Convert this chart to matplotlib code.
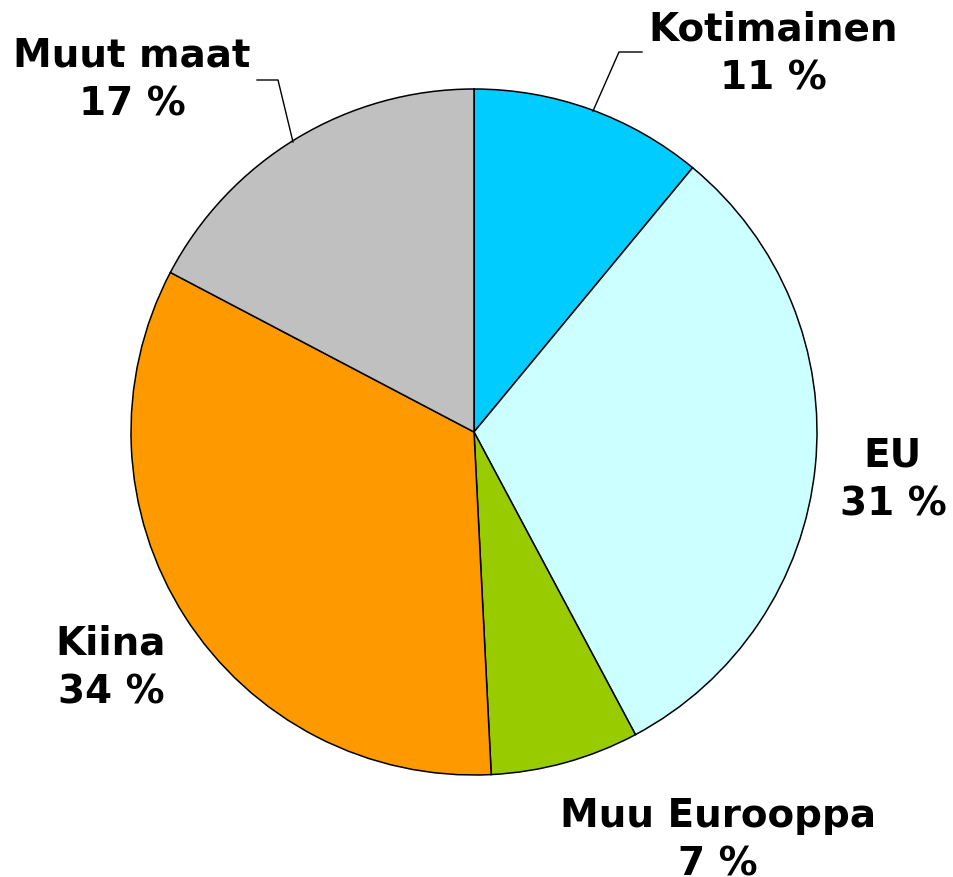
import matplotlib.pyplot as plt

# slice shares and the printed labels
names = ['Kotimainen', 'EU', 'Muu Eurooppa', 'Kiina', 'Muut maat']
shares = [11.0, 31.2, 7.0, 33.5, 17.3]
pct_labels = ['11 %', '31 %', '7 %', '34 %', '17 %']
colors = ['#00CCFF', '#CCFFFF', '#99CC00', '#FF9900', '#C0C0C0']

W, H = 954, 877
fig = plt.figure(figsize=(W / 100, H / 100), dpi=100)
ax = fig.add_axes([0, 0, 1, 1])

cx, cy, r = 474, H - 432, 343
ax.pie(shares, colors=colors, startangle=90, counterclock=False,
       center=(cx, cy), radius=r, frame=True,
       wedgeprops=dict(edgecolor='black', linewidth=1.1))
ax.set_xlim(0, W)
ax.set_ylim(0, H)
ax.set_aspect('equal')
ax.axis('off')

# label positions (pixels, top-left origin)
label_pos = [(773, 54), (893, 480), (718, 840), (111, 668), (132, 80)]
for name, pct, (x, y) in zip(names, pct_labels, label_pos):
    ax.text(x, H - y, name + '\n' + pct, ha='center', va='center',
            fontsize=28, fontweight='bold', linespacing=1.35,
            family='DejaVu Sans')

# leader lines
ax.plot([593, 619, 642], [H - 111, H - 52, H - 52], color='black', lw=1)
ax.plot([293, 278, 257], [H - 142, H - 80, H - 80], color='black', lw=1)

fig.savefig('out.png', dpi=100)
